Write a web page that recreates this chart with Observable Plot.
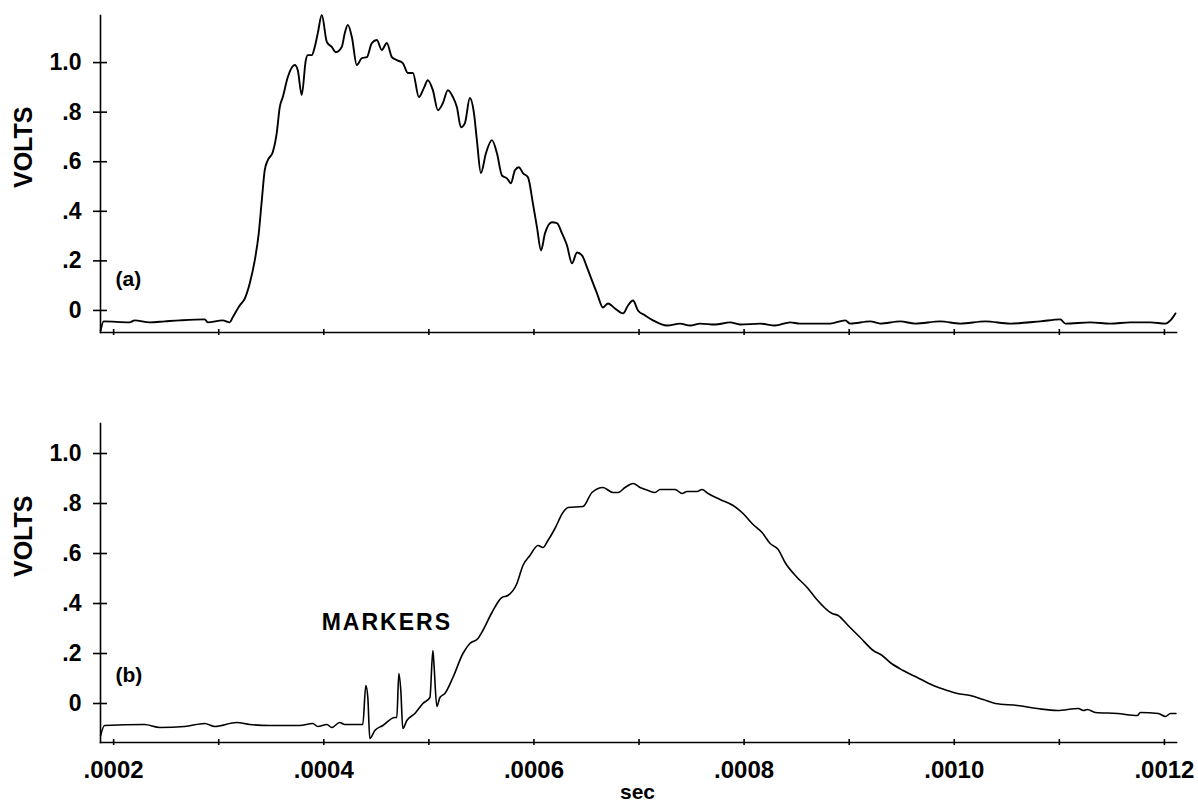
<!DOCTYPE html>
<html>
<head>
<meta charset="utf-8">
<script src="https://cdn.jsdelivr.net/npm/d3@7"></script>
<script src="https://cdn.jsdelivr.net/npm/@observablehq/plot@0.6"></script>
<style>
  html, body { margin: 0; padding: 0; background: #fff; }
  #chart svg { display: block; }
</style>
</head>
<body>
<div id="chart"></div>
<script>
// ---- Data (time in microseconds, voltage in volts) ----
// Panel (a)
const topTime = [187.6,190.5,215.2,220.0,234.3,248.6,262.9,286.7,289.5,303.8,310.5,313.3,320.0,324.8,329.5,334.3,338.1,341.0,343.8,346.7,351.4,355.2,358.1,361.0,365.7,372.4,375.2,379.0,382.9,384.8,388.6,391.4,394.3,398.1,402.9,407.6,411.4,417.1,420.0,422.9,426.7,431.4,436.2,441.0,445.7,450.5,455.2,460.0,464.8,469.5,475.2,480.0,484.8,490.5,495.2,499.0,503.8,508.6,513.3,518.1,522.9,526.7,530.5,534.3,539.0,542.9,545.7,549.5,554.3,560.0,564.8,569.5,574.3,578.1,581.9,585.7,589.5,594.3,599.0,602.9,606.7,610.5,617.1,621.9,626.7,631.4,636.2,641.0,645.7,650.5,655.2,660.0,665.7,670.5,677.1,684.8,689.5,694.3,699.0,705.7,713.3,726.7,739.0,748.6,758.1,772.4,786.7,796.2,815.2,829.5,843.8,853.3,881.9,896.2,901.0,920.0,929.5,948.6,962.9,986.7,1005.7,1029.5,1053.3,1081.9,1100.9,1105.7,1129.5,1148.6,1167.6,1186.7,1201.0,1205.7,1210.5];
const topVolts = [-0.081,-0.044,-0.048,-0.040,-0.048,-0.044,-0.040,-0.036,-0.048,-0.040,-0.048,-0.028,0.020,0.048,0.109,0.202,0.311,0.444,0.566,0.606,0.638,0.715,0.820,0.861,0.941,0.990,0.970,0.869,1.010,1.030,1.030,1.063,1.119,1.192,1.083,1.063,1.042,1.063,1.119,1.152,1.103,0.990,1.018,1.022,1.079,1.091,1.051,1.079,1.022,1.010,0.998,0.958,0.958,0.861,0.897,0.929,0.889,0.808,0.836,0.889,0.861,0.820,0.739,0.756,0.857,0.796,0.687,0.554,0.634,0.687,0.634,0.545,0.533,0.513,0.566,0.578,0.554,0.537,0.432,0.335,0.242,0.311,0.356,0.352,0.311,0.263,0.190,0.234,0.222,0.174,0.121,0.069,0.012,0.028,0.008,-0.012,0.020,0.040,0.000,-0.020,-0.040,-0.061,-0.053,-0.061,-0.053,-0.057,-0.048,-0.057,-0.053,-0.061,-0.048,-0.053,-0.053,-0.040,-0.053,-0.044,-0.053,-0.044,-0.053,-0.044,-0.053,-0.044,-0.053,-0.044,-0.036,-0.053,-0.048,-0.053,-0.048,-0.048,-0.053,-0.040,-0.012];

// Panel (b)
const botTime = [187.6,191.4,229.5,243.8,267.6,286.7,296.2,317.1,329.5,348.6,377.1,389.5,394.3,402.9,407.6,415.2,420.0,437.1,440.0,441.9,443.8,448.6,456.2,467.6,469.5,471.4,473.3,475.2,479.0,486.7,494.3,501.0,503.8,504.8,507.6,510.5,515.2,522.9,532.4,539.0,546.7,551.4,560.0,569.5,575.2,583.8,589.5,596.2,603.8,608.6,613.3,620.0,627.6,632.4,646.7,655.2,665.7,675.2,680.0,686.7,694.3,701.0,708.6,715.2,720.0,734.3,741.0,745.7,755.2,760.0,765.7,777.1,789.5,799.0,807.6,817.1,824.8,832.4,839.0,850.5,860.0,867.6,883.8,889.5,899.0,910.5,922.9,931.4,939.0,951.4,964.8,980.0,993.3,1002.9,1015.2,1027.6,1039.0,1060.0,1079.0,1098.1,1118.1,1122.9,1126.7,1134.3,1155.2,1174.3,1177.1,1194.3,1201.0,1205.7,1211.0];
const botVolts = [-0.128,-0.088,-0.084,-0.096,-0.092,-0.080,-0.092,-0.076,-0.084,-0.088,-0.088,-0.080,-0.092,-0.084,-0.096,-0.076,-0.084,-0.084,0.072,0.024,-0.140,-0.108,-0.088,-0.056,-0.056,0.120,0.052,-0.100,-0.068,-0.040,0.000,0.024,0.212,0.160,-0.012,0.024,0.040,0.104,0.200,0.240,0.260,0.292,0.364,0.424,0.432,0.480,0.552,0.592,0.632,0.624,0.652,0.700,0.764,0.784,0.788,0.844,0.864,0.844,0.844,0.864,0.880,0.864,0.852,0.844,0.856,0.856,0.840,0.848,0.848,0.856,0.840,0.816,0.792,0.760,0.720,0.684,0.640,0.616,0.564,0.504,0.464,0.424,0.360,0.352,0.312,0.264,0.212,0.192,0.164,0.132,0.104,0.072,0.052,0.040,0.032,0.016,0.000,-0.008,-0.020,-0.028,-0.020,-0.028,-0.024,-0.036,-0.040,-0.048,-0.036,-0.040,-0.052,-0.040,-0.040];

// Ticks and labels
const yTicks = [0, 0.2, 0.4, 0.6, 0.8, 1.0];
const yTickLabels = ["0", ".2", ".4", ".6", ".8", "1.0"];
const xMajorTicks = [0.0002, 0.0004, 0.0006, 0.0008, 0.0010, 0.0012];
const xMajorLabels = [".0002", ".0004", ".0006", ".0008", ".0010", ".0012"];
const xAllTicks = [0.0002, 0.0003, 0.0004, 0.0005, 0.0006, 0.0007, 0.0008, 0.0009, 0.0010, 0.0011, 0.0012];
const panelTags = ["(a)", "(b)"];
const yTitle = "VOLTS";
const xTitle = "sec";
const annotationText = ["MARKERS"];
const annotationTime = [460];   // microseconds
const annotationVolts = [0.322];

// ---- Build ----
const toRows = (ts, vs) => ts.map((t, i) => ({t: t * 1e-6, v: vs[i]}));
const topRows = toRows(topTime, topVolts);
const botRows = toRows(botTime, botVolts);
const annRows = annotationText.map((s, i) => ({t: annotationTime[i] * 1e-6, v: annotationVolts[i], s}));

const FONT = "'Liberation Sans', Arial, Helvetica, sans-serif";
const W = 1198;
const xDomain = [187.5e-6, 1211.5e-6];
const fmtY = d => yTickLabels[yTicks.findIndex(y => Math.abs(y - d) < 1e-9)];
const fmtX = d => xMajorLabels[xMajorTicks.findIndex(x => Math.abs(x - d) < 1e-12)];
const blank = () => "";

function panel({rows, yDomain, height, marginTop, marginBottom, tag, tagDy, titleDy, showLabels, extra = [], lineWidth}) {
  return Plot.plot({
    width: W,
    height,
    marginLeft: 100,
    marginRight: 22,
    marginTop,
    marginBottom,
    style: {fontFamily: FONT, fontWeight: "bold", color: "black", background: "white", overflow: "visible"},
    x: {domain: xDomain, label: null},
    y: {domain: yDomain, label: null},
    marks: [
      Plot.frame({anchor: "left", strokeWidth: 1.6}),
      Plot.frame({anchor: "bottom", strokeWidth: 1.6}),
      Plot.axisY(yTicks, {tickSize: 7, tickPadding: 12, tickFormat: fmtY, fontSize: 23, fontWeight: "bold", strokeWidth: 1.6, label: null}),
      Plot.axisY(yTicks, {tickSize: -7, tickFormat: blank, strokeWidth: 1.6, label: null}),
      Plot.axisX(xAllTicks, {tickSize: 3, tickFormat: blank, strokeWidth: 1.6, label: null}),
      Plot.axisX(xAllTicks, {tickSize: -3, tickFormat: blank, strokeWidth: 1.6, label: null}),
      ...(showLabels ? [
        Plot.axisX(xMajorTicks, {tickSize: 0, tickPadding: 18, tickFormat: fmtX, fontSize: 24, fontWeight: "bold", label: null}),
        Plot.text([xTitle], {frameAnchor: "bottom", dx: -1, dy: 56, fontSize: 21, fontWeight: "bold"})
      ] : []),
      Plot.line(rows, {x: "t", y: "v", stroke: "black", strokeWidth: lineWidth, strokeLinejoin: "round", curve: "monotone-x"}),
      Plot.text([yTitle], {frameAnchor: "left", dx: -77, dy: titleDy, rotate: -90, fontSize: 25, fontWeight: "bold"}),
      Plot.text([tag], {frameAnchor: "bottom-left", textAnchor: "start", dx: 15, dy: tagDy, fontSize: 21, fontWeight: "bold"}),
      ...extra
    ]
  });
}

const chart = document.getElementById("chart");

const topSvg = panel({
  rows: topRows, yDomain: [-0.089, 1.19], height: 345, marginTop: 15, marginBottom: 13,
  tag: panelTags[0], tagDy: -47, titleDy: 14, showLabels: false, lineWidth: 1.9
});
const botSvg = panel({
  rows: botRows, yDomain: [-0.156, 1.12], height: 461, marginTop: 78, marginBottom: 64,
  tag: panelTags[1], tagDy: -61, titleDy: -6, showLabels: true, lineWidth: 1.6,
  extra: [Plot.text(annRows, {x: "t", y: "v", text: "s", fontSize: 23, fontWeight: "bold"})]
});
chart.appendChild(topSvg);
chart.appendChild(botSvg);

// letter spacing for the annotation label
botSvg.querySelectorAll("text").forEach(el => {
  if (annotationText.includes(el.textContent)) el.setAttribute("letter-spacing", "2");
});
</script>
</body>
</html>
